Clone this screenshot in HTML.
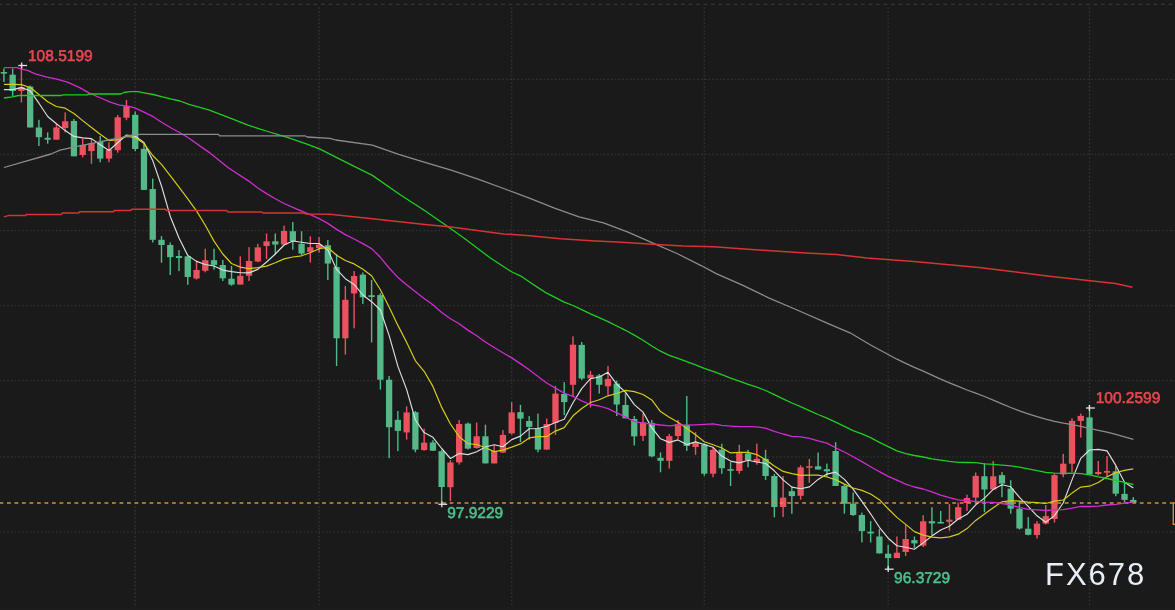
<!DOCTYPE html>
<html><head><meta charset="utf-8"><title>chart</title>
<style>html,body{margin:0;padding:0;background:#1a1a1a;}body{width:1175px;height:610px;overflow:hidden;}svg{display:block;filter:blur(0.35px);}</style>
</head><body>
<svg width="1175" height="610" viewBox="0 0 1175 610"><rect width="1175" height="610" fill="#1a1a1a"/><rect y="607" width="1175" height="3" fill="#1c1c1c"/><g stroke="#323232" stroke-width="1.3" stroke-dasharray="1.6 2.1505"><line x1="0" y1="79.35" x2="1175" y2="79.35" stroke-dashoffset="0.29"/><line x1="0" y1="154.45" x2="1175" y2="154.45" stroke-dashoffset="0.29"/><line x1="0" y1="230.60" x2="1175" y2="230.60" stroke-dashoffset="0.29"/><line x1="0" y1="305.60" x2="1175" y2="305.60" stroke-dashoffset="0.29"/><line x1="0" y1="380.55" x2="1175" y2="380.55" stroke-dashoffset="0.29"/><line x1="0" y1="456.85" x2="1175" y2="456.85" stroke-dashoffset="0.29"/><line x1="0" y1="531.90" x2="1175" y2="531.90" stroke-dashoffset="0.29"/><line x1="135.2" y1="7.29" x2="135.2" y2="606.5" stroke-dashoffset="0"/><line x1="319.1" y1="7.29" x2="319.1" y2="606.5" stroke-dashoffset="0"/><line x1="511.7" y1="7.29" x2="511.7" y2="606.5" stroke-dashoffset="0"/><line x1="704.3" y1="7.29" x2="704.3" y2="606.5" stroke-dashoffset="0"/><line x1="888.2" y1="7.29" x2="888.2" y2="606.5" stroke-dashoffset="0"/><line x1="1089.5" y1="7.29" x2="1089.5" y2="606.5" stroke-dashoffset="0"/></g><line x1="0" y1="4.3" x2="1175" y2="4.3" stroke="#363636" stroke-width="1.3" stroke-dasharray="3.8 3.7" stroke-dashoffset="1.45"/><g><rect x="3.20" y="68.4" width="1.4" height="13.6" fill="#53b988"/><rect x="0.75" y="72.0" width="6.3" height="1.6" fill="#53b988"/><rect x="11.96" y="68.6" width="1.4" height="27.3" fill="#53b988"/><rect x="9.51" y="74.7" width="6.3" height="16.3" fill="#53b988"/><rect x="20.71" y="64.0" width="1.4" height="38.5" fill="#e9525f"/><rect x="18.26" y="87.0" width="6.3" height="4.0" fill="#e9525f"/><rect x="29.46" y="85.5" width="1.4" height="42.0" fill="#53b988"/><rect x="27.02" y="86.6" width="6.3" height="40.9" fill="#53b988"/><rect x="38.22" y="119.8" width="1.4" height="26.2" fill="#53b988"/><rect x="35.77" y="127.5" width="6.3" height="9.7" fill="#53b988"/><rect x="46.98" y="132.4" width="1.4" height="11.3" fill="#53b988"/><rect x="44.53" y="137.8" width="6.3" height="1.9" fill="#53b988"/><rect x="55.73" y="123.5" width="1.4" height="16.2" fill="#e9525f"/><rect x="53.28" y="127.5" width="6.3" height="12.2" fill="#e9525f"/><rect x="64.48" y="112.4" width="1.4" height="20.0" fill="#e9525f"/><rect x="62.04" y="121.3" width="6.3" height="6.7" fill="#e9525f"/><rect x="73.24" y="119.0" width="1.4" height="37.3" fill="#53b988"/><rect x="70.79" y="121.0" width="6.3" height="35.3" fill="#53b988"/><rect x="82.00" y="139.0" width="1.4" height="18.4" fill="#e9525f"/><rect x="79.55" y="144.9" width="6.3" height="10.1" fill="#e9525f"/><rect x="90.75" y="139.0" width="1.4" height="24.8" fill="#e9525f"/><rect x="88.30" y="143.1" width="6.3" height="8.0" fill="#e9525f"/><rect x="99.51" y="136.0" width="1.4" height="26.3" fill="#53b988"/><rect x="97.06" y="141.9" width="6.3" height="16.7" fill="#53b988"/><rect x="108.26" y="142.4" width="1.4" height="19.9" fill="#e9525f"/><rect x="105.81" y="149.7" width="6.3" height="8.9" fill="#e9525f"/><rect x="117.02" y="115.0" width="1.4" height="37.7" fill="#e9525f"/><rect x="114.57" y="117.3" width="6.3" height="32.9" fill="#e9525f"/><rect x="125.77" y="100.0" width="1.4" height="20.2" fill="#e9525f"/><rect x="123.32" y="106.2" width="6.3" height="11.5" fill="#e9525f"/><rect x="134.53" y="111.4" width="1.4" height="39.8" fill="#53b988"/><rect x="132.08" y="114.8" width="6.3" height="34.2" fill="#53b988"/><rect x="143.28" y="144.0" width="1.4" height="46.0" fill="#53b988"/><rect x="140.83" y="148.8" width="6.3" height="41.1" fill="#53b988"/><rect x="152.04" y="178.6" width="1.4" height="63.9" fill="#53b988"/><rect x="149.59" y="189.0" width="6.3" height="50.8" fill="#53b988"/><rect x="160.79" y="236.1" width="1.4" height="26.6" fill="#53b988"/><rect x="158.34" y="239.8" width="6.3" height="5.2" fill="#53b988"/><rect x="169.55" y="242.5" width="1.4" height="32.5" fill="#53b988"/><rect x="167.10" y="245.0" width="6.3" height="12.2" fill="#53b988"/><rect x="178.30" y="250.1" width="1.4" height="21.0" fill="#53b988"/><rect x="175.85" y="256.0" width="6.3" height="2.0" fill="#53b988"/><rect x="187.06" y="255.3" width="1.4" height="29.5" fill="#53b988"/><rect x="184.61" y="256.3" width="6.3" height="20.7" fill="#53b988"/><rect x="195.81" y="260.5" width="1.4" height="19.1" fill="#e9525f"/><rect x="193.36" y="270.0" width="6.3" height="8.5" fill="#e9525f"/><rect x="204.57" y="248.7" width="1.4" height="23.6" fill="#e9525f"/><rect x="202.12" y="260.2" width="6.3" height="10.6" fill="#e9525f"/><rect x="213.32" y="248.7" width="1.4" height="20.9" fill="#53b988"/><rect x="210.87" y="260.2" width="6.3" height="4.7" fill="#53b988"/><rect x="222.08" y="260.0" width="1.4" height="21.0" fill="#53b988"/><rect x="219.63" y="265.0" width="6.3" height="13.3" fill="#53b988"/><rect x="230.83" y="265.9" width="1.4" height="19.9" fill="#53b988"/><rect x="228.38" y="278.7" width="6.3" height="5.9" fill="#53b988"/><rect x="239.59" y="256.3" width="1.4" height="28.0" fill="#e9525f"/><rect x="237.14" y="275.8" width="6.3" height="8.8" fill="#e9525f"/><rect x="248.34" y="247.2" width="1.4" height="33.8" fill="#e9525f"/><rect x="245.89" y="261.0" width="6.3" height="14.8" fill="#e9525f"/><rect x="257.10" y="243.8" width="1.4" height="18.4" fill="#e9525f"/><rect x="254.65" y="247.4" width="6.3" height="14.1" fill="#e9525f"/><rect x="265.85" y="233.4" width="1.4" height="25.6" fill="#e9525f"/><rect x="263.40" y="241.3" width="6.3" height="4.7" fill="#e9525f"/><rect x="274.61" y="233.4" width="1.4" height="21.1" fill="#53b988"/><rect x="272.16" y="241.3" width="6.3" height="3.2" fill="#53b988"/><rect x="283.36" y="225.6" width="1.4" height="18.9" fill="#e9525f"/><rect x="280.91" y="231.0" width="6.3" height="13.5" fill="#e9525f"/><rect x="292.12" y="222.0" width="1.4" height="27.7" fill="#53b988"/><rect x="289.67" y="231.2" width="6.3" height="9.8" fill="#53b988"/><rect x="300.87" y="231.2" width="1.4" height="23.9" fill="#53b988"/><rect x="298.42" y="243.8" width="6.3" height="9.8" fill="#53b988"/><rect x="309.62" y="236.4" width="1.4" height="26.1" fill="#e9525f"/><rect x="307.18" y="247.2" width="6.3" height="4.7" fill="#e9525f"/><rect x="318.38" y="237.1" width="1.4" height="15.5" fill="#e9525f"/><rect x="315.93" y="244.5" width="6.3" height="3.7" fill="#e9525f"/><rect x="327.13" y="240.0" width="1.4" height="40.0" fill="#53b988"/><rect x="324.69" y="245.2" width="6.3" height="18.3" fill="#53b988"/><rect x="335.89" y="254.0" width="1.4" height="112.0" fill="#53b988"/><rect x="333.44" y="267.0" width="6.3" height="71.3" fill="#53b988"/><rect x="344.65" y="286.0" width="1.4" height="68.7" fill="#e9525f"/><rect x="342.20" y="299.8" width="6.3" height="38.5" fill="#e9525f"/><rect x="353.40" y="271.0" width="1.4" height="57.3" fill="#e9525f"/><rect x="350.95" y="276.0" width="6.3" height="17.4" fill="#e9525f"/><rect x="362.16" y="272.5" width="1.4" height="31.5" fill="#53b988"/><rect x="359.71" y="274.7" width="6.3" height="22.6" fill="#53b988"/><rect x="370.91" y="279.9" width="1.4" height="62.5" fill="#53b988"/><rect x="368.46" y="295.2" width="6.3" height="1.8" fill="#53b988"/><rect x="379.67" y="293.2" width="1.4" height="96.4" fill="#53b988"/><rect x="377.22" y="295.1" width="6.3" height="84.6" fill="#53b988"/><rect x="388.42" y="376.0" width="1.4" height="82.2" fill="#53b988"/><rect x="385.97" y="379.7" width="6.3" height="47.5" fill="#53b988"/><rect x="397.18" y="411.0" width="1.4" height="40.1" fill="#53b988"/><rect x="394.73" y="419.8" width="6.3" height="11.1" fill="#53b988"/><rect x="405.93" y="406.3" width="1.4" height="33.4" fill="#e9525f"/><rect x="403.48" y="412.4" width="6.3" height="20.0" fill="#e9525f"/><rect x="414.69" y="411.0" width="1.4" height="41.3" fill="#53b988"/><rect x="412.24" y="412.2" width="6.3" height="37.4" fill="#53b988"/><rect x="423.44" y="428.7" width="1.4" height="22.1" fill="#e9525f"/><rect x="420.99" y="442.7" width="6.3" height="7.3" fill="#e9525f"/><rect x="432.20" y="440.2" width="1.4" height="10.8" fill="#53b988"/><rect x="429.75" y="442.5" width="6.3" height="8.2" fill="#53b988"/><rect x="440.95" y="449.8" width="1.4" height="52.9" fill="#53b988"/><rect x="438.50" y="451.2" width="6.3" height="35.8" fill="#53b988"/><rect x="449.71" y="460.2" width="1.4" height="41.0" fill="#e9525f"/><rect x="447.26" y="462.5" width="6.3" height="24.7" fill="#e9525f"/><rect x="458.46" y="420.0" width="1.4" height="44.6" fill="#e9525f"/><rect x="456.01" y="424.0" width="6.3" height="38.4" fill="#e9525f"/><rect x="467.22" y="422.5" width="1.4" height="27.0" fill="#53b988"/><rect x="464.77" y="423.6" width="6.3" height="25.0" fill="#53b988"/><rect x="475.97" y="422.5" width="1.4" height="26.1" fill="#e9525f"/><rect x="473.52" y="436.3" width="6.3" height="11.7" fill="#e9525f"/><rect x="484.73" y="424.7" width="1.4" height="38.7" fill="#53b988"/><rect x="482.28" y="436.3" width="6.3" height="27.1" fill="#53b988"/><rect x="493.48" y="445.4" width="1.4" height="18.0" fill="#e9525f"/><rect x="491.03" y="451.0" width="6.3" height="12.4" fill="#e9525f"/><rect x="502.24" y="430.1" width="1.4" height="22.9" fill="#e9525f"/><rect x="499.79" y="434.9" width="6.3" height="17.6" fill="#e9525f"/><rect x="510.99" y="402.1" width="1.4" height="32.5" fill="#e9525f"/><rect x="508.54" y="412.4" width="6.3" height="21.0" fill="#e9525f"/><rect x="519.75" y="404.8" width="1.4" height="37.2" fill="#53b988"/><rect x="517.30" y="412.2" width="6.3" height="6.4" fill="#53b988"/><rect x="528.50" y="416.1" width="1.4" height="23.6" fill="#53b988"/><rect x="526.05" y="421.0" width="6.3" height="5.9" fill="#53b988"/><rect x="537.25" y="413.6" width="1.4" height="38.7" fill="#53b988"/><rect x="534.81" y="428.4" width="6.3" height="21.2" fill="#53b988"/><rect x="546.01" y="418.6" width="1.4" height="31.0" fill="#e9525f"/><rect x="543.56" y="424.0" width="6.3" height="25.6" fill="#e9525f"/><rect x="554.76" y="385.9" width="1.4" height="49.0" fill="#e9525f"/><rect x="552.32" y="393.6" width="6.3" height="29.2" fill="#e9525f"/><rect x="563.52" y="382.2" width="1.4" height="32.9" fill="#53b988"/><rect x="561.07" y="394.0" width="6.3" height="8.1" fill="#53b988"/><rect x="572.27" y="336.3" width="1.4" height="59.8" fill="#e9525f"/><rect x="569.83" y="344.7" width="6.3" height="40.1" fill="#e9525f"/><rect x="581.03" y="342.0" width="1.4" height="37.9" fill="#53b988"/><rect x="578.58" y="344.9" width="6.3" height="33.6" fill="#53b988"/><rect x="589.78" y="371.0" width="1.4" height="36.5" fill="#e9525f"/><rect x="587.34" y="374.7" width="6.3" height="3.7" fill="#e9525f"/><rect x="598.54" y="374.0" width="1.4" height="19.6" fill="#53b988"/><rect x="596.09" y="375.5" width="6.3" height="9.3" fill="#53b988"/><rect x="607.29" y="365.9" width="1.4" height="29.2" fill="#e9525f"/><rect x="604.85" y="378.9" width="6.3" height="7.4" fill="#e9525f"/><rect x="616.05" y="380.6" width="1.4" height="35.4" fill="#53b988"/><rect x="613.60" y="383.6" width="6.3" height="20.9" fill="#53b988"/><rect x="624.80" y="393.2" width="1.4" height="25.1" fill="#53b988"/><rect x="622.36" y="405.0" width="6.3" height="13.3" fill="#53b988"/><rect x="633.56" y="416.0" width="1.4" height="29.5" fill="#53b988"/><rect x="631.11" y="419.0" width="6.3" height="17.4" fill="#53b988"/><rect x="642.31" y="413.5" width="1.4" height="27.5" fill="#e9525f"/><rect x="639.87" y="422.3" width="6.3" height="13.5" fill="#e9525f"/><rect x="651.07" y="419.9" width="1.4" height="37.3" fill="#53b988"/><rect x="648.62" y="422.9" width="6.3" height="33.4" fill="#53b988"/><rect x="659.83" y="452.4" width="1.4" height="19.9" fill="#53b988"/><rect x="657.38" y="457.8" width="6.3" height="3.0" fill="#53b988"/><rect x="668.58" y="433.9" width="1.4" height="34.7" fill="#e9525f"/><rect x="666.13" y="436.1" width="6.3" height="24.7" fill="#e9525f"/><rect x="677.34" y="420.0" width="1.4" height="19.0" fill="#e9525f"/><rect x="674.89" y="424.0" width="6.3" height="12.0" fill="#e9525f"/><rect x="686.09" y="396.0" width="1.4" height="54.9" fill="#53b988"/><rect x="683.64" y="424.8" width="6.3" height="21.2" fill="#53b988"/><rect x="694.85" y="432.2" width="1.4" height="22.6" fill="#e9525f"/><rect x="692.40" y="442.8" width="6.3" height="4.2" fill="#e9525f"/><rect x="703.60" y="443.3" width="1.4" height="32.5" fill="#53b988"/><rect x="701.15" y="444.5" width="6.3" height="29.2" fill="#53b988"/><rect x="712.36" y="447.3" width="1.4" height="30.0" fill="#e9525f"/><rect x="709.91" y="449.8" width="6.3" height="23.9" fill="#e9525f"/><rect x="721.11" y="443.8" width="1.4" height="30.0" fill="#53b988"/><rect x="718.66" y="449.7" width="6.3" height="18.5" fill="#53b988"/><rect x="729.87" y="462.0" width="1.4" height="24.0" fill="#53b988"/><rect x="727.42" y="469.1" width="6.3" height="1.7" fill="#53b988"/><rect x="738.62" y="444.8" width="1.4" height="28.9" fill="#e9525f"/><rect x="736.17" y="452.0" width="6.3" height="19.0" fill="#e9525f"/><rect x="747.38" y="449.8" width="1.4" height="17.5" fill="#53b988"/><rect x="744.93" y="453.5" width="6.3" height="6.5" fill="#53b988"/><rect x="756.13" y="443.6" width="1.4" height="21.1" fill="#e9525f"/><rect x="753.68" y="458.8" width="6.3" height="3.4" fill="#e9525f"/><rect x="764.88" y="449.9" width="1.4" height="30.0" fill="#53b988"/><rect x="762.44" y="458.8" width="6.3" height="17.2" fill="#53b988"/><rect x="773.64" y="474.0" width="1.4" height="43.3" fill="#53b988"/><rect x="771.19" y="476.0" width="6.3" height="31.0" fill="#53b988"/><rect x="782.39" y="476.0" width="1.4" height="41.0" fill="#e9525f"/><rect x="779.95" y="497.6" width="6.3" height="9.4" fill="#e9525f"/><rect x="791.15" y="486.8" width="1.4" height="27.0" fill="#53b988"/><rect x="788.70" y="491.2" width="6.3" height="4.9" fill="#53b988"/><rect x="799.90" y="465.2" width="1.4" height="34.5" fill="#e9525f"/><rect x="797.46" y="467.4" width="6.3" height="28.4" fill="#e9525f"/><rect x="808.66" y="458.9" width="1.4" height="23.9" fill="#e9525f"/><rect x="806.21" y="466.2" width="6.3" height="1.6" fill="#e9525f"/><rect x="817.41" y="452.5" width="1.4" height="17.0" fill="#53b988"/><rect x="814.97" y="466.3" width="6.3" height="3.2" fill="#53b988"/><rect x="826.17" y="463.6" width="1.4" height="13.3" fill="#53b988"/><rect x="823.72" y="469.2" width="6.3" height="2.1" fill="#53b988"/><rect x="834.92" y="442.2" width="1.4" height="43.8" fill="#53b988"/><rect x="832.48" y="451.0" width="6.3" height="35.0" fill="#53b988"/><rect x="843.68" y="484.2" width="1.4" height="29.5" fill="#53b988"/><rect x="841.23" y="486.0" width="6.3" height="17.7" fill="#53b988"/><rect x="852.44" y="492.4" width="1.4" height="23.6" fill="#53b988"/><rect x="849.99" y="503.7" width="6.3" height="11.3" fill="#53b988"/><rect x="861.19" y="512.6" width="1.4" height="29.8" fill="#53b988"/><rect x="858.74" y="515.0" width="6.3" height="16.0" fill="#53b988"/><rect x="869.95" y="521.0" width="1.4" height="21.4" fill="#53b988"/><rect x="867.50" y="531.6" width="6.3" height="1.9" fill="#53b988"/><rect x="878.70" y="529.1" width="1.4" height="24.3" fill="#53b988"/><rect x="876.25" y="536.5" width="6.3" height="16.9" fill="#53b988"/><rect x="887.46" y="544.9" width="1.4" height="24.7" fill="#53b988"/><rect x="885.01" y="553.7" width="6.3" height="4.4" fill="#53b988"/><rect x="896.21" y="536.5" width="1.4" height="21.6" fill="#e9525f"/><rect x="893.76" y="552.7" width="6.3" height="5.4" fill="#e9525f"/><rect x="904.97" y="524.7" width="1.4" height="31.4" fill="#e9525f"/><rect x="902.52" y="539.0" width="6.3" height="13.0" fill="#e9525f"/><rect x="913.72" y="536.5" width="1.4" height="11.3" fill="#53b988"/><rect x="911.27" y="540.1" width="6.3" height="3.3" fill="#53b988"/><rect x="922.48" y="515.2" width="1.4" height="31.8" fill="#e9525f"/><rect x="920.03" y="521.3" width="6.3" height="24.3" fill="#e9525f"/><rect x="931.23" y="507.2" width="1.4" height="28.0" fill="#53b988"/><rect x="928.78" y="521.2" width="6.3" height="2.2" fill="#53b988"/><rect x="939.99" y="510.9" width="1.4" height="12.5" fill="#53b988"/><rect x="937.54" y="521.9" width="6.3" height="1.6" fill="#53b988"/><rect x="948.74" y="504.0" width="1.4" height="26.8" fill="#e9525f"/><rect x="946.29" y="519.7" width="6.3" height="2.2" fill="#e9525f"/><rect x="957.50" y="502.5" width="1.4" height="17.2" fill="#e9525f"/><rect x="955.05" y="507.2" width="6.3" height="12.5" fill="#e9525f"/><rect x="966.25" y="494.7" width="1.4" height="16.2" fill="#e9525f"/><rect x="963.80" y="498.0" width="6.3" height="5.0" fill="#e9525f"/><rect x="975.00" y="472.5" width="1.4" height="30.3" fill="#e9525f"/><rect x="972.56" y="475.9" width="6.3" height="21.7" fill="#e9525f"/><rect x="983.76" y="463.2" width="1.4" height="49.0" fill="#53b988"/><rect x="981.31" y="476.3" width="6.3" height="13.2" fill="#53b988"/><rect x="992.51" y="461.0" width="1.4" height="28.8" fill="#e9525f"/><rect x="990.07" y="476.3" width="6.3" height="13.2" fill="#e9525f"/><rect x="1001.27" y="472.1" width="1.4" height="25.1" fill="#53b988"/><rect x="998.82" y="475.1" width="6.3" height="8.5" fill="#53b988"/><rect x="1010.02" y="480.2" width="1.4" height="33.5" fill="#53b988"/><rect x="1007.58" y="488.6" width="6.3" height="20.1" fill="#53b988"/><rect x="1018.78" y="500.9" width="1.4" height="28.7" fill="#53b988"/><rect x="1016.33" y="508.7" width="6.3" height="19.8" fill="#53b988"/><rect x="1027.54" y="517.1" width="1.4" height="18.2" fill="#53b988"/><rect x="1025.09" y="528.7" width="6.3" height="6.1" fill="#53b988"/><rect x="1036.29" y="521.1" width="1.4" height="17.4" fill="#e9525f"/><rect x="1033.84" y="523.6" width="6.3" height="11.4" fill="#e9525f"/><rect x="1045.05" y="505.0" width="1.4" height="19.5" fill="#e9525f"/><rect x="1042.60" y="516.1" width="6.3" height="7.5" fill="#e9525f"/><rect x="1053.80" y="473.8" width="1.4" height="48.8" fill="#e9525f"/><rect x="1051.35" y="475.1" width="6.3" height="43.9" fill="#e9525f"/><rect x="1062.56" y="453.8" width="1.4" height="23.4" fill="#e9525f"/><rect x="1060.11" y="463.7" width="6.3" height="10.7" fill="#e9525f"/><rect x="1071.31" y="418.4" width="1.4" height="53.9" fill="#e9525f"/><rect x="1068.86" y="420.9" width="6.3" height="42.8" fill="#e9525f"/><rect x="1080.07" y="413.6" width="1.4" height="24.0" fill="#e9525f"/><rect x="1077.62" y="415.9" width="6.3" height="5.0" fill="#e9525f"/><rect x="1088.82" y="405.2" width="1.4" height="70.0" fill="#53b988"/><rect x="1086.37" y="417.4" width="6.3" height="57.1" fill="#53b988"/><rect x="1097.58" y="461.0" width="1.4" height="14.5" fill="#e9525f"/><rect x="1095.12" y="472.0" width="6.3" height="2.0" fill="#e9525f"/><rect x="1106.33" y="456.0" width="1.4" height="20.5" fill="#e9525f"/><rect x="1103.88" y="471.0" width="6.3" height="1.7" fill="#e9525f"/><rect x="1115.09" y="466.1" width="1.4" height="30.1" fill="#53b988"/><rect x="1112.63" y="471.3" width="6.3" height="22.4" fill="#53b988"/><rect x="1123.84" y="481.9" width="1.4" height="20.6" fill="#53b988"/><rect x="1121.39" y="493.9" width="6.3" height="6.0" fill="#53b988"/><rect x="1132.60" y="497.1" width="1.4" height="5.9" fill="#53b988"/><rect x="1130.15" y="499.9" width="6.3" height="2.9" fill="#53b988"/></g><line x1="0" y1="503" x2="1173" y2="503" stroke="#dc8e2e" stroke-width="1.4" stroke-dasharray="3.8 3.7022" stroke-dashoffset="0.53"/><polyline fill="none" stroke="#dedede" stroke-width="1.15" stroke-linejoin="round" points="3.9,89.6 12.7,89.6 21.4,87.6 30.2,90.8 38.9,103.2 47.7,116.5 56.4,123.8 65.2,130.6 73.9,136.4 82.7,137.9 91.5,138.6 100.2,144.8 109.0,150.5 117.7,142.7 126.5,135.0 135.2,136.2 144.0,142.4 152.7,160.4 161.5,186.0 170.2,216.2 179.0,238.0 187.8,255.4 196.5,261.4 205.3,264.5 214.0,266.0 222.8,270.1 231.5,271.6 240.3,272.8 249.0,272.9 257.8,269.4 266.6,262.0 275.3,254.0 284.1,245.0 292.8,241.0 301.6,242.3 310.3,243.5 319.1,243.5 327.8,250.0 336.6,269.4 345.3,278.7 354.1,284.4 362.9,295.0 371.6,301.7 380.4,310.0 389.1,335.4 397.9,366.4 406.6,389.4 415.4,420.0 424.1,432.6 432.9,437.3 441.7,448.5 450.4,458.5 459.2,453.4 467.9,454.6 476.7,451.7 485.4,447.0 494.2,444.7 502.9,446.8 511.7,439.6 520.4,436.1 529.2,428.8 538.0,428.5 546.7,426.3 555.5,422.5 564.2,419.2 573.0,402.8 581.7,388.6 590.5,378.7 599.2,377.0 608.0,372.3 616.8,384.3 625.5,392.2 634.3,404.6 643.0,412.1 651.8,427.6 660.5,438.8 669.3,442.4 678.0,439.9 686.8,444.6 695.5,441.9 704.3,444.5 713.1,447.3 721.8,456.1 730.6,461.1 739.3,462.9 748.1,460.2 756.8,462.0 765.6,463.5 774.3,470.8 783.1,479.9 791.9,487.1 800.6,488.8 809.4,486.9 818.1,479.4 826.9,474.1 835.6,472.1 844.4,479.4 853.1,489.1 861.9,501.4 870.6,513.8 879.4,527.3 888.2,538.2 896.9,545.7 905.7,547.3 914.4,549.3 923.2,542.9 931.9,536.0 940.7,530.1 949.4,526.2 958.2,519.0 967.0,514.3 975.7,504.8 984.5,498.1 993.2,489.4 1002.0,484.7 1010.7,486.8 1019.5,497.3 1028.2,506.4 1037.0,515.8 1045.7,522.3 1054.5,515.6 1063.3,502.7 1072.0,479.9 1080.8,458.3 1089.5,450.0 1098.3,449.4 1107.0,450.9 1115.8,465.4 1124.5,482.2 1133.3,487.9"/><polyline fill="none" stroke="#d4cc18" stroke-width="1.2" stroke-linejoin="round" points="3.9,84.4 12.7,84.4 21.4,84.6 30.2,87.5 38.9,94.5 47.7,101.8 56.4,106.5 65.2,108.2 73.9,113.5 82.7,120.6 91.5,127.5 100.2,134.3 109.0,140.6 117.7,139.6 126.5,136.5 135.2,137.4 144.0,143.6 152.7,155.5 161.5,164.3 170.2,175.6 179.0,187.1 187.8,198.9 196.5,210.9 205.3,225.2 214.0,241.1 222.8,254.0 231.5,263.5 240.3,267.1 249.0,268.7 257.8,267.7 266.6,266.1 275.3,262.8 284.1,258.9 292.8,257.0 301.6,255.8 310.3,252.7 319.1,248.7 327.8,247.5 336.6,255.2 345.3,260.5 354.1,263.9 362.9,269.2 371.6,275.8 380.4,289.7 389.1,307.1 397.9,325.4 406.6,342.2 415.4,360.8 424.1,371.3 432.9,386.4 441.7,407.4 450.4,424.0 459.2,436.7 467.9,443.6 476.7,444.5 485.4,447.7 494.2,451.6 502.9,450.1 511.7,447.1 520.4,443.9 529.2,437.9 538.0,436.6 546.7,436.6 555.5,431.1 564.2,427.6 573.0,415.8 581.7,408.5 590.5,402.5 599.2,399.8 608.0,395.8 616.8,393.5 625.5,390.4 634.3,391.6 643.0,394.5 651.8,399.9 660.5,411.6 669.3,417.3 678.0,422.2 686.8,428.4 695.5,434.8 704.3,441.7 713.1,444.8 721.8,448.0 730.6,452.9 739.3,452.4 748.1,452.3 756.8,454.6 765.6,459.8 774.3,465.9 783.1,471.4 791.9,473.6 800.6,475.4 809.4,475.2 818.1,475.1 826.9,477.0 835.6,479.6 844.4,484.1 853.1,488.0 861.9,490.4 870.6,494.0 879.4,499.7 888.2,508.8 896.9,517.4 905.7,524.4 914.4,531.6 923.2,535.1 931.9,537.1 940.7,537.9 949.4,536.8 958.2,534.2 967.0,528.6 975.7,520.4 984.5,514.1 993.2,507.8 1002.0,501.8 1010.7,500.6 1019.5,501.1 1028.2,502.2 1037.0,502.6 1045.7,503.5 1054.5,501.2 1063.3,500.0 1072.0,493.1 1080.8,487.1 1089.5,486.2 1098.3,482.5 1107.0,476.8 1115.8,472.6 1124.5,470.3 1133.3,468.9"/><polyline fill="none" stroke="#cd2ecd" stroke-width="1.3" stroke-linejoin="round" points="3.9,67.7 16.9,67.7 21.4,69.2 27.6,70.4 35.2,73.8 46.0,76.9 56.7,79.1 67.4,82.2 79.7,87.6 88.8,92.9 99.6,97.5 110.3,102.1 119.5,105.2 127.1,106.0 134.8,107.8 144.0,112.1 153.2,116.7 162.4,122.8 171.6,128.2 180.0,132.8 189.0,138.3 208.7,152.1 228.3,167.8 248.0,180.6 257.8,188.0 266.6,193.6 275.3,198.7 284.1,203.5 292.8,207.3 301.6,211.1 310.3,214.7 319.1,218.6 327.8,223.4 336.6,229.4 345.3,234.6 354.1,239.0 362.9,243.6 371.6,248.6 380.4,257.3 389.1,268.0 397.9,277.4 406.6,284.8 415.4,291.8 424.1,298.4 432.9,304.8 441.7,312.5 450.4,318.7 459.2,323.8 467.9,330.1 476.7,335.8 485.4,342.0 494.2,347.5 502.9,352.8 511.7,357.9 520.4,363.6 529.2,369.8 538.0,376.6 546.7,383.0 555.5,388.1 564.2,393.1 573.0,396.3 581.7,400.8 590.5,404.5 599.2,406.0 608.0,408.7 616.8,412.9 625.5,417.0 634.3,421.6 643.0,423.1 651.8,424.0 660.5,425.0 669.3,425.8 678.0,425.0 686.8,425.1 695.5,424.8 704.3,424.4 713.1,423.9 721.8,425.4 730.6,426.1 739.3,426.7 748.1,426.6 756.8,426.8 765.6,428.2 774.3,431.3 783.1,434.0 791.9,436.3 800.6,436.9 809.4,438.3 818.1,440.8 826.9,443.1 835.6,447.8 844.4,452.0 853.1,456.7 861.9,461.6 870.6,466.7 879.4,471.7 888.2,476.3 896.9,480.2 905.7,484.1 914.4,487.0 923.2,489.0 931.9,491.9 940.7,495.2 949.4,497.7 958.2,499.8 967.0,500.7 975.7,501.5 984.5,502.2 993.2,502.4 1002.0,503.5 1010.7,505.1 1019.5,507.4 1028.2,509.4 1037.0,509.9 1045.7,510.5 1054.5,509.8 1063.3,509.7 1072.0,508.2 1080.8,506.4 1089.5,506.5 1098.3,506.1 1107.0,505.0 1115.8,504.3 1124.5,503.2 1133.3,502.2"/><polyline fill="none" stroke="#22cc22" stroke-width="1.3" stroke-linejoin="round" points="3.9,98.0 12.3,96.8 18.4,95.5 61.3,95.5 62.8,94.9 87.3,94.9 88.8,94.0 121.0,94.0 124.0,92.5 130.2,91.7 137.9,91.7 144.0,92.9 153.2,94.5 162.4,96.8 171.6,99.1 180.0,101.0 189.0,104.3 208.7,109.8 228.3,117.3 248.0,125.2 267.7,131.5 287.3,137.4 307.0,144.2 320.0,149.2 346.2,162.3 372.4,175.4 398.7,193.8 424.9,210.8 445.9,225.2 464.2,238.3 490.4,258.0 511.0,271.5 520.4,275.8 529.2,281.7 538.0,287.6 546.7,293.2 555.5,297.7 564.2,302.1 573.0,305.5 581.7,309.7 590.5,313.9 599.2,317.7 608.0,321.6 616.8,326.0 625.5,330.3 634.3,335.1 643.0,340.2 651.8,346.0 660.5,351.2 669.3,355.3 678.0,358.4 686.8,361.7 695.5,364.8 704.3,368.4 713.1,371.3 721.8,374.6 730.6,378.1 739.3,381.2 748.1,384.3 756.8,387.2 765.6,390.5 774.3,394.6 783.1,398.8 791.9,403.0 800.6,406.7 809.4,410.7 818.1,414.5 826.9,418.1 835.6,422.1 844.4,426.4 853.1,430.6 861.9,433.8 870.6,437.7 879.4,442.3 888.2,446.7 896.9,450.9 905.7,453.6 914.4,455.5 923.2,457.0 931.9,458.9 940.7,460.1 949.4,461.4 958.2,462.3 967.0,462.5 975.7,462.7 984.5,463.8 993.2,464.3 1002.0,465.1 1010.7,465.8 1019.5,467.1 1028.2,468.8 1037.0,470.6 1045.7,472.3 1054.5,473.1 1063.3,473.3 1072.0,473.2 1080.8,473.6 1089.5,474.8 1098.3,476.9 1107.0,478.5 1115.8,480.5 1124.5,482.4 1133.3,484.5"/><polyline fill="none" stroke="#8c8c8c" stroke-width="1.3" stroke-linejoin="round" points="3.9,167.5 27.0,160.8 51.0,154.0 60.0,150.2 78.4,146.2 95.8,142.6 111.0,139.5 119.2,138.3 125.0,136.5 133.0,135.0 139.8,134.4 218.5,134.4 219.5,135.8 305.0,135.8 307.0,137.0 330.0,138.3 335.7,140.0 372.4,145.2 398.7,154.4 424.9,162.3 451.1,170.2 477.3,178.8 503.6,188.5 530.0,198.4 554.5,208.2 579.0,216.8 603.5,222.9 628.0,232.1 652.5,242.8 677.0,253.5 701.6,265.8 716.2,273.6 742.4,285.1 768.6,297.8 794.8,309.0 830.0,324.4 850.0,332.8 870.6,345.0 879.4,349.8 888.2,354.5 896.9,359.2 905.7,363.3 914.4,367.4 923.2,371.2 931.9,375.1 940.7,379.1 949.4,382.8 958.2,386.4 967.0,390.0 975.7,393.1 984.5,396.5 993.2,400.1 1002.0,403.9 1010.7,407.5 1019.5,410.9 1028.2,413.8 1037.0,416.6 1045.7,419.2 1054.5,421.4 1063.3,423.2 1072.0,424.7 1080.8,426.3 1089.5,428.4 1098.3,430.3 1107.0,432.2 1115.8,434.4 1124.5,436.8 1133.3,439.3"/><polyline fill="none" stroke="#d63434" stroke-width="1.5" stroke-linejoin="round" points="3.9,216.9 9.2,215.4 25.5,215.4 26.6,214.4 61.3,214.4 62.3,213.0 78.6,213.0 79.7,211.7 113.4,211.7 114.4,210.5 130.7,210.5 131.7,209.3 165.4,209.3 166.5,210.5 226.7,210.5 227.7,212.0 261.8,212.1 263.7,213.1 303.0,213.1 307.0,214.1 330.0,214.3 372.4,218.7 424.9,224.4 451.1,227.0 477.3,230.5 503.6,233.9 530.0,235.8 560.6,238.8 591.3,240.7 621.9,242.2 652.5,244.3 683.2,245.9 713.8,246.8 744.5,248.9 775.0,251.1 805.7,252.9 836.4,254.4 867.0,258.1 890.0,259.7 911.0,261.3 979.0,267.4 1047.0,276.0 1115.4,283.4 1132.4,287.2"/><rect x="1173.3" y="503" width="10" height="21.3" fill="#000" stroke="#e0902e" stroke-width="1.4"/><line x1="18.3" y1="65.5" x2="27.1" y2="65.5" stroke="#e2e2e2" stroke-width="1.3"/><line x1="21.7" y1="62.4" x2="21.7" y2="68.4" stroke="#e2e2e2" stroke-width="1.3"/><line x1="438.4" y1="504.3" x2="447.2" y2="504.3" stroke="#e2e2e2" stroke-width="1.3"/><line x1="441.8" y1="501.2" x2="441.8" y2="507.2" stroke="#e2e2e2" stroke-width="1.3"/><line x1="884.8" y1="569.2" x2="893.6" y2="569.2" stroke="#e2e2e2" stroke-width="1.3"/><line x1="888.2" y1="566.1" x2="888.2" y2="572.1" stroke="#e2e2e2" stroke-width="1.3"/><line x1="1086.0" y1="408" x2="1094.8" y2="408" stroke="#e2e2e2" stroke-width="1.3"/><line x1="1089.4" y1="404.9" x2="1089.4" y2="410.9" stroke="#e2e2e2" stroke-width="1.3"/><text x="28.0" y="60.75" font-family="Liberation Sans, Arial, sans-serif" font-size="15.7" textLength="64.64" lengthAdjust="spacingAndGlyphs" text-rendering="geometricPrecision" stroke="#e4474f" stroke-width="0.6" stroke-linejoin="round" fill="#e4474f">108.5199</text><text x="1095.7" y="403.05" font-family="Liberation Sans, Arial, sans-serif" font-size="15.7" textLength="64.64" lengthAdjust="spacingAndGlyphs" text-rendering="geometricPrecision" stroke="#e4474f" stroke-width="0.6" stroke-linejoin="round" fill="#e4474f">100.2599</text><text x="447.2" y="518.05" font-family="Liberation Sans, Arial, sans-serif" font-size="15.7" textLength="56.02" lengthAdjust="spacingAndGlyphs" text-rendering="geometricPrecision" stroke="#4cbf8c" stroke-width="0.6" stroke-linejoin="round" fill="#4cbf8c">97.9229</text><text x="894.1" y="583.15" font-family="Liberation Sans, Arial, sans-serif" font-size="15.7" textLength="56.02" lengthAdjust="spacingAndGlyphs" text-rendering="geometricPrecision" stroke="#4cbf8c" stroke-width="0.6" stroke-linejoin="round" fill="#4cbf8c">96.3729</text><text x="1045" y="585.3" font-family="Liberation Sans, Arial, sans-serif" font-size="31" letter-spacing="2" fill="#e8eef8">FX678</text></svg>
</body></html>
